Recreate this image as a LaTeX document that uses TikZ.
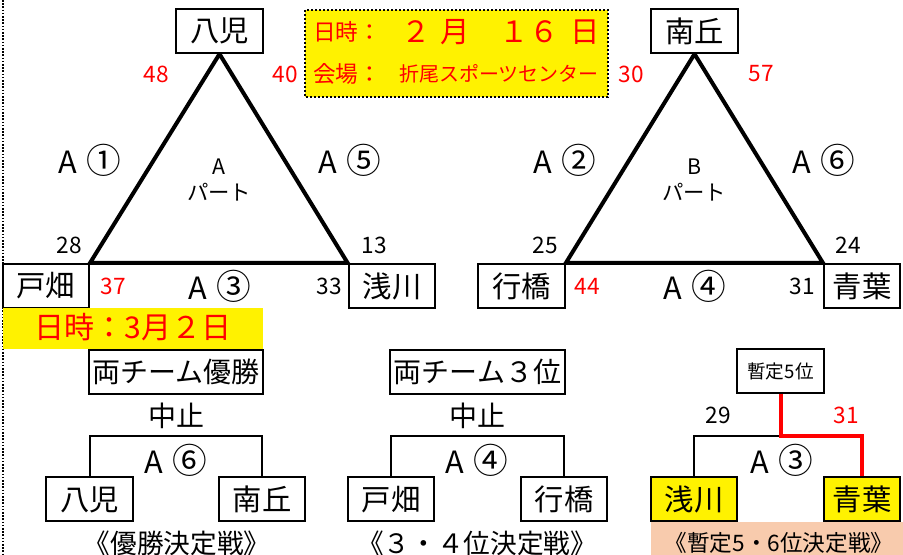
\documentclass[tikz,border=0pt]{standalone}
\usepackage{fontspec}
\setmainfont{Noto Sans CJK JP}
\usepackage{xcolor}
\usepackage{tikz}
\usetikzlibrary{backgrounds}
\definecolor{peach}{RGB}{248,203,173}
\newcommand{\fs}[1]{\fontsize{#1}{#1}\selectfont}
\newcommand{\gm}[1]{A\hspace{7pt}{\fs{26}#1}}

\tikzset{
  team/.style={draw, line width=1.5pt, fill=white, inner sep=0pt, minimum width=65pt, minimum height=33pt, font=\fs{22}},
  pts/.style={inner sep=0.75pt, font=\fs{17}},
  redpts/.style={pts, text=red},
  game/.style={inner sep=0.75pt, font=\fs{23}},
  part/.style={inner sep=0.75pt, font=\fs{16}},
  infotext/.style={inner sep=0.75pt, text=red, font=\fs{17}},
  leg/.style={line width=3pt},
  bracket/.style={line width=1.5pt},
  winline/.style={line width=3pt, red},
  caption/.style={inner sep=0.75pt, font=\fs{20}},
}

\begin{document}
\begin{tikzpicture}[x=0.75pt,y=0.75pt,yscale=-1,xscale=1]
\useasboundingbox (0,0) rectangle (903,555);

%Straight Lines [id:left dotted border]
\draw [line width=1.2pt, dash pattern=on 1.2pt off 1.2pt] (3,0) -- (3,555) ;

%Shape: Rectangle [id:info box]
\draw [fill=yellow, line width=1.5pt, dash pattern=on 1.5pt off 1.5pt] (305,10) rectangle (608,97) ;
% Text Node
\node [infotext, anchor=west] (infoday) at (312,32) {日時：};
\foreach \x/\t in {416/２,455/月,529/１６,585/日}
  \node [infotext, font=\fs{22}] (date\x) at (\x,32) {\t};
% Text Node
\node [infotext, anchor=west] (infoplace) at (312,74) {会場：};
\node [infotext, font=\fs{15}] (hall) at (499,74) {折尾スポーツセンター};

%Part A
\node [team] (yahata) at (219.5,31) {八児};
\node [team, minimum width=64.5pt] (tobata) at (46,286) {戸畑};
\node [team] (asakawa) at (392,286) {浅川};
\begin{scope}[on background layer]
\draw [leg] (yahata.south) -- (tobata.north east) -- (asakawa.north west) -- cycle ;
\end{scope}
\node [redpts] (s48) at (156,74) {48};
\node [redpts] (s40) at (285,74) {40};
\node [pts] (s28) at (69,245) {28};
\node [pts] (s13) at (374,245) {13};
\node [redpts] (s37) at (113,286) {37};
\node [pts] (s33) at (329,286) {33};
\node [game] (g1) at (90,160) {\gm{①}};
\node [game] (g5) at (350,160) {\gm{⑤}};
\node [game] (g3) at (220,286) {\gm{③}};
\node [part] (pa) at (219,167) {A};
\node [part] (pakana) at (219,192) {パート};

%Part B
\node [team] (minamioka) at (694.5,31) {南丘};
\node [team] (yukuhashi) at (521.5,286) {行橋};
\node [team, minimum width=57pt] (aoba) at (862,286) {青葉};
\begin{scope}[on background layer]
\draw [leg] (minamioka.south) -- (yukuhashi.north east) -- (aoba.north west) -- cycle ;
\end{scope}
\node [redpts] (s30) at (631,74) {30};
\node [redpts] (s57) at (761,74) {57};
\node [pts] (s25) at (545,245) {25};
\node [pts] (s24) at (848,245) {24};
\node [redpts] (s44) at (587,286) {44};
\node [pts] (s31) at (802,286) {31};
\node [game] (g2) at (565,160) {\gm{②}};
\node [game] (g6) at (824,160) {\gm{⑥}};
\node [game] (g4) at (695,286) {\gm{④}};
\node [part] (pb) at (694,167) {B};
\node [part] (pbkana) at (694,192) {パート};

%Shape: Rectangle [id:date banner]
\fill [yellow] (3,308) rectangle (263,349) ;
\node [infotext, font=\fs{22.5}] (banner) at (133,327) {日時：3月２日};

%Final
\node [team, minimum width=130.5pt, font=\fs{21}] (champ) at (176,372) {両チーム優勝};
\node [game, font=\fs{21}] (stop1) at (176,416) {中止};
\node [team] (yahata2) at (89.5,499.5) {八児};
\node [team] (minamioka2) at (262,499.5) {南丘};
\coordinate (top1) at (176,436);
\draw [bracket] (yahata2.north) |- (top1) -| (minamioka2.north) ;
\node [game] (g6b) at (176,460) {\gm{⑥}};
\node [caption] (cap1) at (177,543) {《優勝決定戦》};

%Third place
\node [team, minimum width=131pt, font=\fs{21}] (third) at (477.5,372) {両チーム３位};
\node [game, font=\fs{21}] (stop2) at (477,416) {中止};
\node [team] (tobata2) at (391,499.5) {戸畑};
\node [team] (yukuhashi2) at (564,499.5) {行橋};
\coordinate (top2) at (477,436);
\draw [bracket] (tobata2.north) |- (top2) -| (yukuhashi2.north) ;
\node [game] (g4b) at (477,460) {\gm{④}};
\node [caption] (cap2) at (477,543) {《３・４位決定戦》};

%Fifth place
\fill [peach] (651,522) rectangle (903,555) ;
\node [team, font=\fs{14}] (fifth) at (780.5,371.5) {暫定5位};
\node [team, fill=yellow] (asakawa2) at (694,499.5) {浅川};
\node [team, fill=yellow, minimum width=57pt] (aoba2) at (862,499.5) {青葉};
\coordinate (top3) at (780.5,436);
\draw [bracket] (asakawa2.north) |- (top3) ;
\draw [winline] (fifth.south) -- (top3) -| (aoba2.north) ;
\node [pts] (s29) at (718,415) {29};
\node [redpts] (s31b) at (846,415) {31};
\node [game] (g3b) at (782,460) {\gm{③}};
\node [caption, font=\fs{17}] (cap3) at (779,543) {《暫定5・6位決定戦》};

\end{tikzpicture}
\end{document}
